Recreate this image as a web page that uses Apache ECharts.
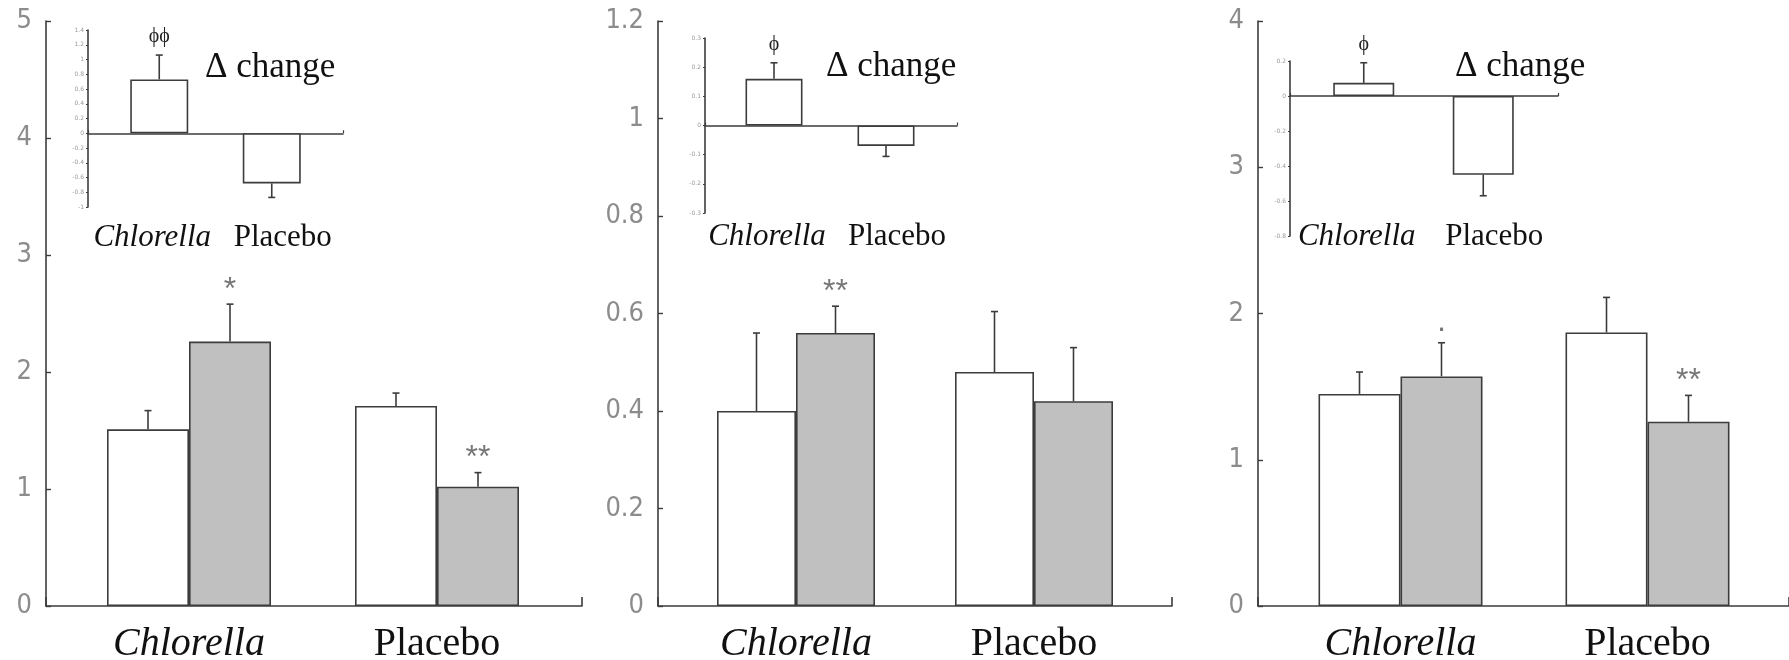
<!DOCTYPE html>
<html><head><meta charset="utf-8">
<script src="https://cdn.jsdelivr.net/npm/echarts@6/dist/echarts.min.js"></script>
<style>html,body{margin:0;padding:0;background:#fff}#c{width:1789px;height:660px}</style>
</head><body><div id="c"></div>
<script>
// ---------------- DATA ----------------
const categories = ['Chlorella', 'Placebo'];

// Panel 1
const p1Ticks = [0, 1, 2, 3, 4, 5];
const p1Before = [1.51, 1.71];
const p1BeforeErr = [0.16, 0.11];
const p1After = [2.26, 1.02];
const p1AfterErr = [0.32, 0.12];
const p1AfterMarks = ['*', '**'];
const p1DeltaTicks = [-1, -0.8, -0.6, -0.4, -0.2, 0, 0.2, 0.4, 0.6, 0.8, 1, 1.2, 1.4];
const p1Delta = [0.73, -0.68];
const p1DeltaErr = [0.33, 0.19];
const p1DeltaMarks = ['ϕϕ', ''];

// Panel 2
const p2Ticks = [0, 0.2, 0.4, 0.6, 0.8, 1, 1.2];
const p2Before = [0.40, 0.48];
const p2BeforeErr = [0.16, 0.124];
const p2After = [0.56, 0.42];
const p2AfterErr = [0.055, 0.11];
const p2AfterMarks = ['**', ''];
const p2DeltaTicks = [-0.3, -0.2, -0.1, 0, 0.1, 0.2, 0.3];
const p2Delta = [0.16, -0.07];
const p2DeltaErr = [0.055, 0.036];
const p2DeltaMarks = ['ϕ', ''];

// Panel 3
const p3Ticks = [0, 1, 2, 3, 4];
const p3Before = [1.45, 1.87];
const p3BeforeErr = [0.15, 0.24];
const p3After = [1.57, 1.26];
const p3AfterErr = [0.23, 0.18];
const p3AfterMarks = ['·', '**'];
const p3DeltaTicks = [-0.8, -0.6, -0.4, -0.2, 0, 0.2];
const p3Delta = [0.075, -0.45];
const p3DeltaErr = [0.115, 0.12];
const p3DeltaMarks = ['ϕ', ''];

const deltaTitle = 'Δ change';

// ---------------- LAYOUT ----------------
const MAIN_TOP = 21, MAIN_BOTTOM = 606;
const panels = [
  { ticks: p1Ticks, before: p1Before, beforeErr: p1BeforeErr, after: p1After, afterErr: p1AfterErr, afterMarks: p1AfterMarks,
    dTicks: p1DeltaTicks, delta: p1Delta, deltaErr: p1DeltaErr, deltaMarks: p1DeltaMarks,
    main: { axisX: 46, xEnd: 582, barL: 65, barR: 561, bw: 82 },
    inset: { axisX: 88, xEnd: 343, top: 30, bottom: 207, barL: 103, barR: 328, bw: 58, labMargin: 15 },
    title: { x: 205, y: 68 } },
  { ticks: p2Ticks, before: p2Before, beforeErr: p2BeforeErr, after: p2After, afterErr: p2AfterErr, afterMarks: p2AfterMarks,
    dTicks: p2DeltaTicks, delta: p2Delta, deltaErr: p2DeltaErr, deltaMarks: p2DeltaMarks,
    main: { axisX: 658, xEnd: 1172, barL: 677, barR: 1153, bw: 79 },
    inset: { axisX: 705, xEnd: 957, top: 38, bottom: 213, barL: 718, barR: 942, bw: 57, labMargin: 8 },
    title: { x: 826, y: 67 } },
  { ticks: p3Ticks, before: p3Before, beforeErr: p3BeforeErr, after: p3After, afterErr: p3AfterErr, afterMarks: p3AfterMarks,
    dTicks: p3DeltaTicks, delta: p3Delta, deltaErr: p3DeltaErr, deltaMarks: p3DeltaMarks,
    main: { axisX: 1258, xEnd: 1789, barL: 1277, barR: 1771, bw: 82 },
    inset: { axisX: 1290, xEnd: 1558, top: 61, bottom: 236, barL: 1304, barR: 1543, bw: 61, labMargin: -15 },
    title: { x: 1455, y: 67 } }
];

const AX = '#3c3c3c';
const fmt = v => String(Math.round(v * 100) / 100);
const rng = t => ({ min: t[0], max: t[t.length - 1], interval: Math.round((t[1] - t[0]) * 1e6) / 1e6 });

const grid = [], xAxis = [], yAxis = [], series = [], graphic = [];

function addGrid(l, r, top, bottom) {
  grid.push({ left: l, top: top, width: r - l, height: bottom - top, containLabel: false, outerBoundsMode: 'none' });
  return grid.length - 1;
}

function catLabel(padI, padN) {
  return {
    interval: 0,
    formatter: v => v === 'Chlorella' ? '{i|' + v + '}' : '{n|' + v + '}',
    rich: {
      i: { fontFamily: 'Liberation Serif', fontStyle: 'italic', color: '#111', padding: padI },
      n: { fontFamily: 'Liberation Serif', color: '#111', padding: padN }
    }
  };
}

function errSeries(xi, yi, vals, errs, marks, side, bw, markFont, markOff, markColor) {
  return {
    type: 'custom', xAxisIndex: xi, yAxisIndex: yi, z: 5, clip: false, silent: true,
    data: vals.map((v, i) => [i, v, errs[i]]),
    renderItem: (params, api) => {
      const c = api.value(0), v = api.value(1), e = api.value(2);
      const end = v >= 0 ? v + e : v - e;
      const p0 = api.coord([c, v]), p1 = api.coord([c, end]);
      const x = p0[0] + side * bw / 2;
      const ch = [
        { type: 'line', shape: { x1: x, y1: p0[1], x2: x, y2: p1[1] }, style: { stroke: AX, lineWidth: 1.6 } },
        { type: 'line', shape: { x1: x - 3.5, y1: p1[1], x2: x + 3.5, y2: p1[1] }, style: { stroke: AX, lineWidth: 1.6 } }
      ];
      const m = marks[params.dataIndex];
      if (m) {
        const y = v >= 0 ? p1[1] - markOff : p1[1] + markOff;
        ch.push({ type: 'text', style: { text: m, x: x, y: y, align: 'center', verticalAlign: 'middle',
          font: markFont, fill: markColor } });
      }
      return { type: 'group', children: ch };
    }
  };
}

panels.forEach(p => {
  const yr = rng(p.ticks);
  // main frame axes
  const gf = addGrid(p.main.axisX, p.main.xEnd, MAIN_TOP, MAIN_BOTTOM);
  xAxis.push({ gridIndex: gf, type: 'value', min: 0, max: 1, interval: 1,
    axisLine: { show: true, lineStyle: { color: AX, width: 1.6 } },
    axisTick: { show: true, inside: true, length: 9, lineStyle: { color: AX, width: 1.6 } },
    axisLabel: { show: false }, splitLine: { show: false } });
  yAxis.push({ gridIndex: gf, type: 'value', min: yr.min, max: yr.max, interval: yr.interval,
    axisLine: { show: true, lineStyle: { color: AX, width: 1.6 } },
    axisTick: { show: true, inside: true, length: 5, lineStyle: { color: AX, width: 1.4 } },
    axisLabel: { show: true, margin: 14, formatter: fmt, color: '#8c8c8c', fontSize: 27,
      fontFamily: "'DejaVu Sans Condensed', 'Liberation Sans Narrow', sans-serif" },
    splitLine: { show: false } });
  // main bars grid
  const gb = addGrid(p.main.barL, p.main.barR, MAIN_TOP, MAIN_BOTTOM);
  xAxis.push({ gridIndex: gb, type: 'category', data: categories,
    axisLine: { show: false }, axisTick: { show: false },
    axisLabel: Object.assign({ margin: 18, fontSize: 40, lineHeight: 40 }, catLabel([0, 0, 0, 0], [0, 0, 0, 0])) });
  yAxis.push({ gridIndex: gb, type: 'value', min: yr.min, max: yr.max, interval: yr.interval, show: false });
  const xb = xAxis.length - 1, ybb = yAxis.length - 1;
  const barStyle = (col) => ({ color: col, borderColor: AX, borderWidth: 1.6 });
  series.push({ type: 'bar', xAxisIndex: xb, yAxisIndex: ybb, data: p.before, barWidth: p.main.bw, barGap: '0%',
    itemStyle: barStyle('#ffffff'), silent: true });
  series.push({ type: 'bar', xAxisIndex: xb, yAxisIndex: ybb, data: p.after, barWidth: p.main.bw, barGap: '0%',
    itemStyle: barStyle('#c0c0c0'), silent: true });
  series.push(errSeries(xb, ybb, p.before, p.beforeErr, ['', ''], -1, p.main.bw, '', 0, '#777'));
  series.push(errSeries(xb, ybb, p.after, p.afterErr, p.afterMarks, 1, p.main.bw,
    '32px "Liberation Sans", sans-serif', 14, '#777'));

  // inset frame
  const dr = rng(p.dTicks);
  const gi = addGrid(p.inset.axisX, p.inset.xEnd, p.inset.top, p.inset.bottom);
  xAxis.push({ gridIndex: gi, type: 'value', min: 0, max: 1, interval: 1,
    axisLine: { show: true, onZero: true, lineStyle: { color: AX, width: 1.6 } },
    axisTick: { show: true, inside: true, length: 3, lineStyle: { color: AX, width: 1.2 } },
    axisLabel: { show: false }, splitLine: { show: false } });
  yAxis.push({ gridIndex: gi, type: 'value', min: dr.min, max: dr.max, interval: dr.interval,
    axisLine: { show: true, onZero: false, lineStyle: { color: AX, width: 1.6 } },
    axisTick: { show: true, length: 2, lineStyle: { color: AX, width: 1 } },
    axisLabel: { show: true, margin: 4, formatter: fmt, color: '#999', fontSize: 6, fontFamily: 'DejaVu Sans' },
    splitLine: { show: false } });
  // inset bars
  const gib = addGrid(p.inset.barL, p.inset.barR, p.inset.top, p.inset.bottom);
  xAxis.push({ gridIndex: gib, type: 'category', data: categories, position: 'bottom',
    axisLine: { show: false, onZero: false }, axisTick: { show: false },
    axisLabel: Object.assign({ margin: p.inset.labMargin, fontSize: 31, lineHeight: 31 },
      catLabel([0, 14, 0, 0], [0, 0, 0, 22])) });
  yAxis.push({ gridIndex: gib, type: 'value', min: dr.min, max: dr.max, interval: dr.interval, show: false });
  const xi = xAxis.length - 1, yi = yAxis.length - 1;
  series.push({ type: 'bar', xAxisIndex: xi, yAxisIndex: yi, data: p.delta, barWidth: p.inset.bw,
    itemStyle: barStyle('#ffffff'), silent: true });
  series.push(errSeries(xi, yi, p.delta, p.deltaErr, p.deltaMarks, 0, p.inset.bw,
    '20px "Liberation Serif", "DejaVu Serif", serif', 18, '#222'));

  graphic.push({ type: 'text', x: p.title.x, y: p.title.y, silent: true,
    style: { text: deltaTitle, fontSize: 35, fontFamily: 'Liberation Serif', fill: '#111',
      align: 'left', verticalAlign: 'middle' } });
});

const chart = echarts.init(document.getElementById('c'), null, { renderer: 'canvas' });
chart.setOption({
  animation: false,
  backgroundColor: '#ffffff',
  grid, xAxis, yAxis, series, graphic
});
</script>
</body></html>
